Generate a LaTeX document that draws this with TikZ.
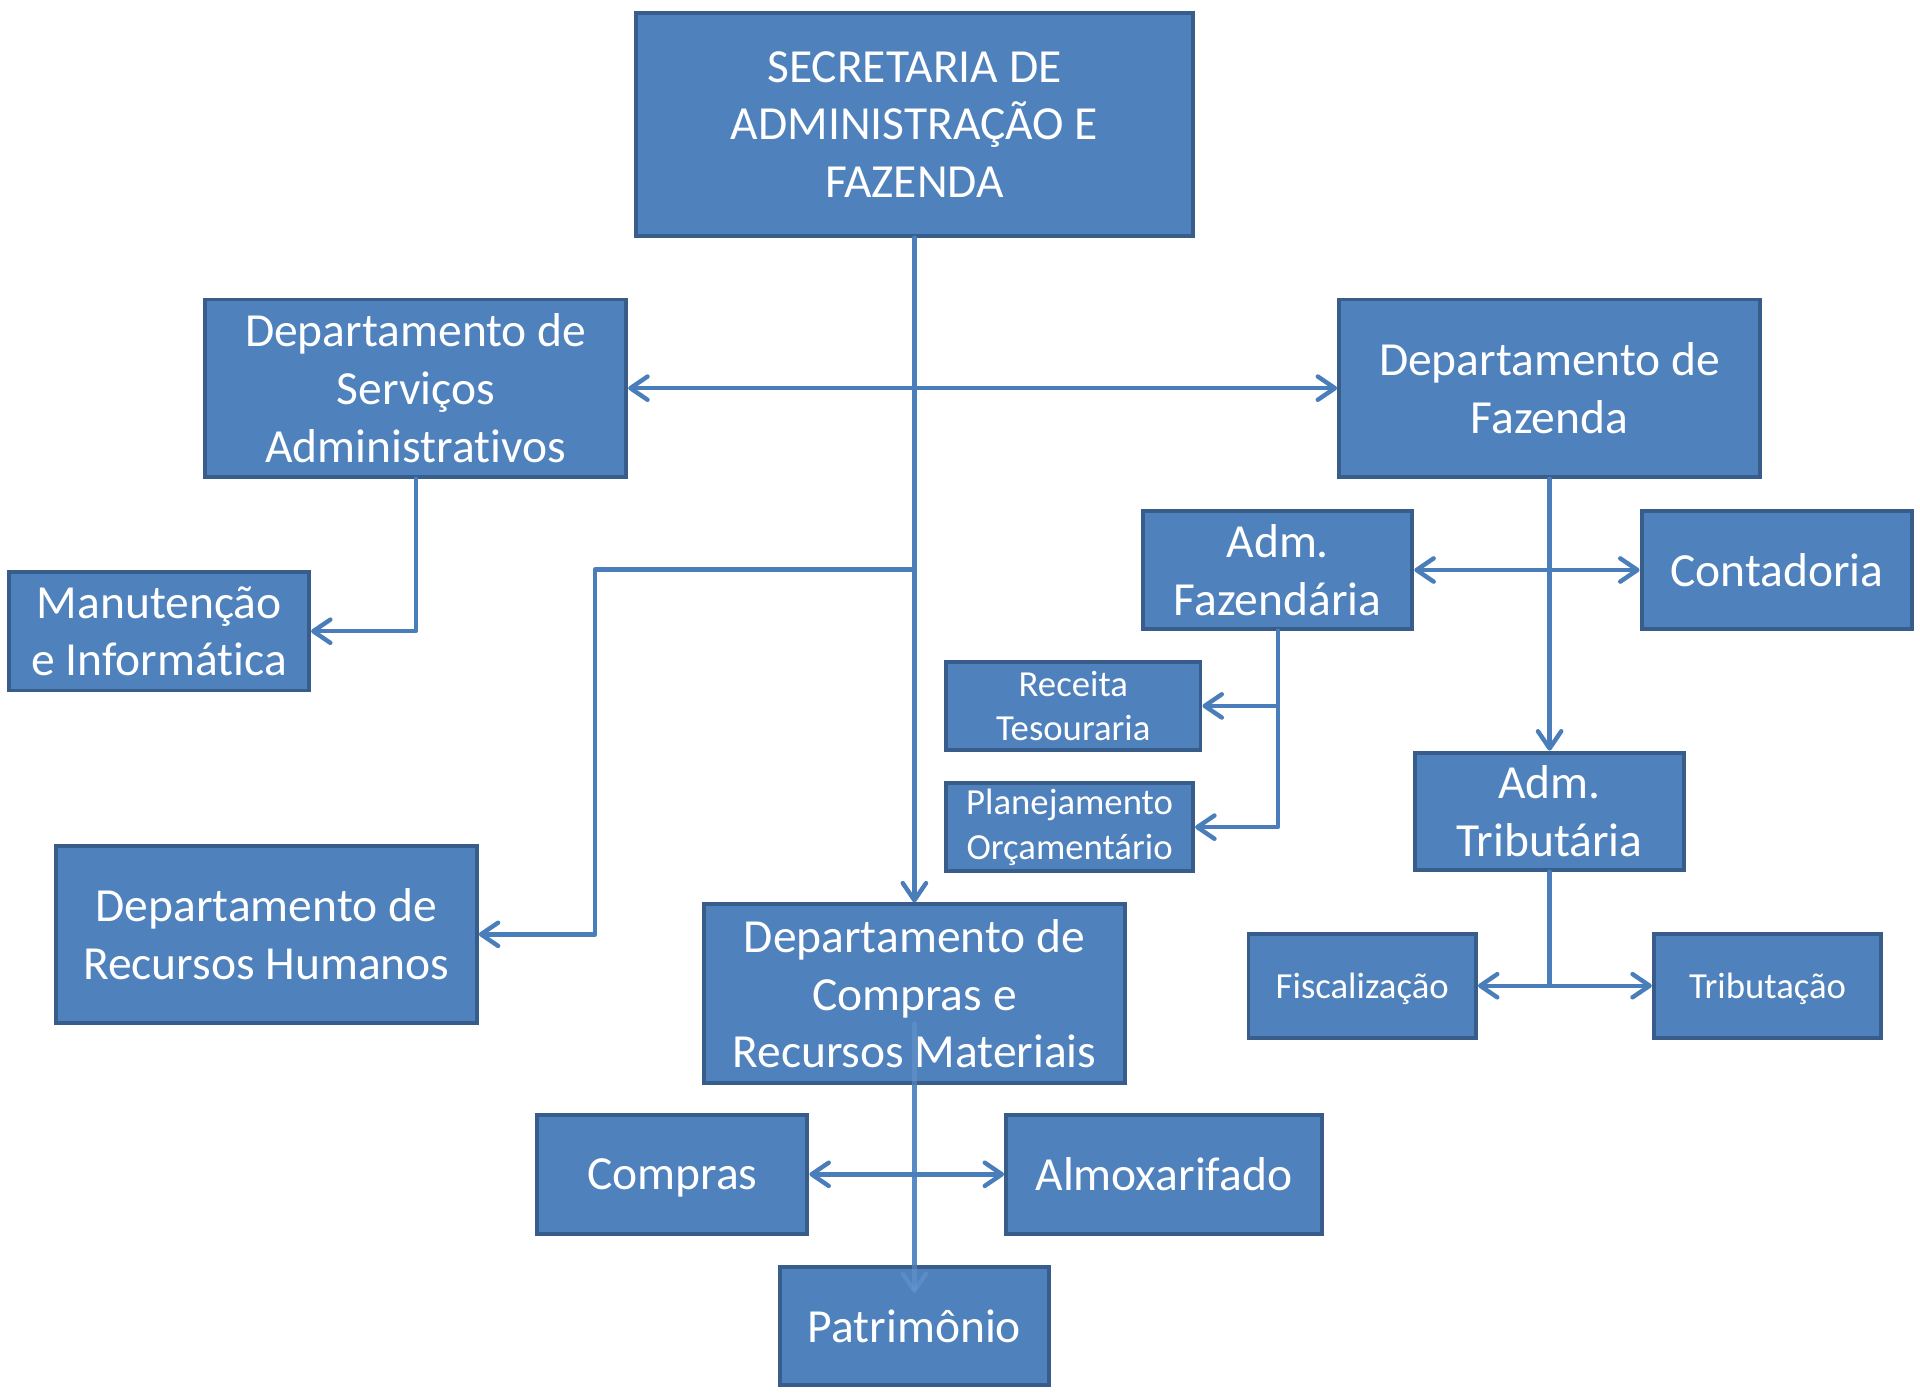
\documentclass[tikz,border=0pt]{standalone}
\usepackage{fontspec}
\setmainfont{Carlito}[RawFeature=-liga]
\usetikzlibrary{arrows.meta}
\definecolor{boxfill}{HTML}{4F81BD}
\definecolor{boxline}{HTML}{385D8A}
\definecolor{connc}{HTML}{4A7EBB}
\definecolor{ghostc}{HTML}{6A9AD3}
\tikzset{
  orgbox/.style={draw=boxline, fill=boxfill, line width=1.6pt, text=white, align=center, inner sep=0pt,
    font=\fontsize{19.4}{23.5}\selectfont},
  smallbox/.style={orgbox, font=\fontsize{15}{18.3}\selectfont},
  nodepth/.style={text depth=0pt},
  conn/.style={draw=connc, line width=1.8pt, line cap=round, line join=round},
  tipb/.tip={Straight Barb[length=7pt, width=9.5pt, line width=1.8pt, round]},
}
\begin{document}
\begin{tikzpicture}[x=0.5pt, y=-0.5pt]
\path[use as bounding box] (0,0) rectangle (1568,1140);

% connector to Patrimonio (solid part, behind boxes)
\coordinate (ps) at (746.75,836);
\coordinate (pe) at (746.75,1056);
\draw[conn, -tipb] (ps) -- (pe);

% boxes
\node[orgbox, minimum width=227.4pt, minimum height=90.9pt] (top) at (746.75,101.5) {SECRETARIA DE\\ADMINISTRAÇÃO E\\FAZENDA};
\node[orgbox, minimum width=171.9pt, minimum height=72.4pt] (dsa) at (339.5,317) {Departamento de\\Serviços\\Administrativos};
\node[orgbox, minimum width=171.9pt, minimum height=72.4pt] (dfz) at (1265.5,317) {Departamento de\\Fazenda};
\node[orgbox, minimum width=122.4pt, minimum height=48.4pt] (man) at (130,515.5) {Manutenção\\e Informática};
\node[orgbox, minimum width=109.9pt, minimum height=47.9pt] (admf) at (1043.5,465.5) {Adm.\\Fazendária};
\node[orgbox, minimum width=110.4pt, minimum height=47.9pt] (cont) at (1451,465.5) {Contadoria};
\node[smallbox, minimum width=103.9pt, minimum height=35.9pt] (rec) at (876.5,576.5) {Receita\\Tesouraria};
\node[smallbox, minimum width=100.9pt, minimum height=35.9pt] (plan) at (873.5,675.5) {Planejamento\\Orçamentário};
\node[orgbox, minimum width=109.9pt, minimum height=47.9pt] (admt) at (1265.5,662.5) {Adm.\\Tributária};
\node[orgbox, minimum width=171.9pt, minimum height=72.4pt] (drh) at (217.5,763) {Departamento de\\Recursos Humanos};
\node[orgbox, minimum width=171.9pt, minimum height=72.9pt] (dcrm) at (746.75,811.5) {Departamento de\\Compras e\\Recursos Materiais};
\node[smallbox, nodepth, minimum width=92.9pt, minimum height=42.4pt] (fisc) at (1112.5,805) {Fiscalização};
\node[smallbox, nodepth, minimum width=92.9pt, minimum height=42.4pt] (trib) at (1443.5,805) {Tributação};
\node[orgbox, nodepth, minimum width=110.4pt, minimum height=48.4pt] (comp) at (549,959) {Compras};
\node[orgbox, minimum width=128.9pt, minimum height=48.4pt] (alm) at (950.5,959) {Almoxarifado};
\node[orgbox, minimum width=109.9pt, minimum height=48.4pt] (pat) at (746.75,1083) {Patrimônio};

% faint part of the Patrimonio connector over the boxes
\draw[conn, draw=ghostc, draw opacity=0.45, -tipb] (ps) -- (pe);

% connectors
\coordinate (rhbend) at (486,465);
\draw[conn, -tipb] (top.south) -- (dcrm.north);
\draw[conn, tipb-tipb] (dsa.east) -- (dfz.west);
\draw[conn, -tipb] (top.south |- rhbend) -- (rhbend) |- (drh.east);
\draw[conn, -tipb] (dsa.south) |- (man.east);
\draw[conn, -tipb] (dfz.south) -- (admt.north);
\draw[conn, tipb-tipb] (admf.east) -- (cont.west);
\draw[conn, -tipb] (admf.south) |- (plan.east);
\draw[conn, -tipb] (admf.south |- rec.east) -- (rec.east);
\draw[conn] (admt.south) -- (admt.south |- fisc.east);
\draw[conn, tipb-tipb] (fisc.east) -- (trib.west);
\draw[conn, tipb-tipb] (comp.east) -- (alm.west);
\end{tikzpicture}
\end{document}
